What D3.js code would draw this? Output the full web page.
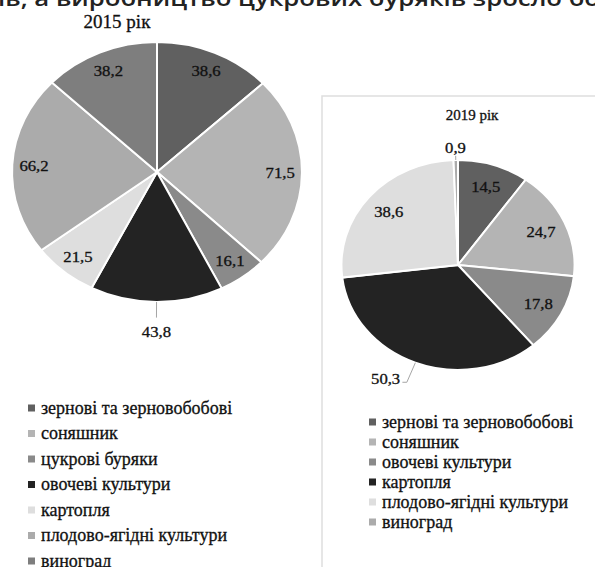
<!DOCTYPE html>
<html>
<head>
<meta charset="utf-8">
<script src="https://cdn.jsdelivr.net/npm/d3@7"></script>
<style>
  body { margin: 0; background: #fff; }
  svg { display: block; }
  svg text.serif { fill: #111; stroke: #111; stroke-width: 0.3px; }
</style>
</head>
<body>
<div id="chart"></div>
<script>
const width = 595;
const height = 567;
const serif = "Liberation Serif";

// 2015
const crops2015 = ["зернові та зерновобобові", "соняшник", "цукрові буряки", "овочеві культури", "картопля", "плодово-ягідні культури", "виноград"];
const values2015 = [38.6, 71.5, 16.1, 43.8, 21.5, 66.2, 38.2];
const colors2015 = ["#606060", "#b4b4b4", "#8a8a8a", "#232323", "#dedede", "#ababab", "#7e7e7e"];

// 2019
const crops2019 = ["зернові та зерновобобові", "соняшник", "овочеві культури", "картопля", "плодово-ягідні культури", "виноград"];
const values2019 = [14.5, 24.7, 17.8, 50.3, 38.6, 0.9];
const colors2019 = ["#606060", "#b4b4b4", "#8a8a8a", "#232323", "#dedede", "#ababab"];

const fmt = v => String(v).replace(".", ",");

const svg = d3.select("#chart")
  .append("svg")
  .attr("width", width)
  .attr("height", height);

// cropped line of the page text above the figure
svg.append("text")
  .attr("x", -2)
  .attr("y", 6)
  .attr("textLength", 602)
  .attr("lengthAdjust", "spacingAndGlyphs")
  .style("font-family", "Open Sans")
  .style("font-size", "21px")
  .style("font-weight", 600)
  .style("fill", "#222")
  .text("ів, а виробництво цукрових буряків зросло бо");

// frame of the 2019 chart
svg.append("rect")
  .attr("x", 322)
  .attr("y", 96)
  .attr("width", 300)
  .attr("height", 500)
  .attr("fill", "none")
  .attr("stroke", "#dedede")
  .attr("stroke-width", 1.5);

function drawPie(opts) {
  const pie = d3.pie().sort(null).value(d => d.v);
  const arcs = pie(opts.names.map((n, i) => ({ n: n, v: opts.values[i], c: opts.colors[i] })));
  const arc = d3.arc().innerRadius(0).outerRadius(opts.r);
  const polar = (a, rr) => [Math.sin(a) * rr, -Math.cos(a) * rr];

  const g = svg.append("g")
    .attr("transform", `translate(${opts.cx},${opts.cy}) scale(${opts.sx},1)`);

  g.selectAll("path")
    .data(arcs)
    .enter()
    .append("path")
    .attr("d", arc)
    .attr("fill", d => d.data.c)
    .attr("stroke", "#fff")
    .attr("stroke-width", 2)
    .attr("vector-effect", "non-scaling-stroke");

  arcs.forEach(d => {
    const mid = (d.startAngle + d.endAngle) / 2;
    const out = opts.outside[d.data.n];
    if (!out) {
      const p = polar(mid, opts.r * opts.k);
      g.append("text")
        .attr("class", "serif")
        .attr("x", p[0]).attr("y", p[1])
        .attr("dy", "0.35em")
        .attr("text-anchor", "middle")
        .style("font-family", serif)
        .style("font-size", opts.fs + "px")
        .text(fmt(d.data.v));
      return;
    }
    const p1 = polar(mid, opts.r);
    const p2 = polar(mid, opts.r * out.lead);
    const pts = [p1, p2];
    if (out.anchor === "end") pts.push([p2[0] - 4, p2[1]]);
    g.append("path")
      .attr("d", d3.line()(pts))
      .attr("fill", "none")
      .attr("stroke", "#a6a6a6")
      .attr("stroke-width", 1)
      .attr("vector-effect", "non-scaling-stroke");
    let t;
    if (out.anchor === "end") {
      t = [p2[0] - 6, p2[1] - 4];
    } else {
      t = polar(mid, opts.r * out.text);
    }
    g.append("text")
      .attr("class", "serif")
      .attr("x", t[0]).attr("y", t[1])
      .attr("dy", "0.35em")
      .attr("text-anchor", out.anchor)
      .style("font-family", serif)
      .style("font-size", opts.fs + "px")
      .text(fmt(d.data.v));
  });
}

drawPie({
  names: crops2015, values: values2015, colors: colors2015,
  cx: 157, cy: 172, r: 130, sx: 1.115, k: 0.85, fs: 15,
  outside: { "овочеві культури": { lead: 1.12, text: 1.23, anchor: "middle" } }
});

drawPie({
  names: crops2019, values: values2019, colors: colors2019,
  cx: 458, cy: 265, r: 105, sx: 1.11, k: 0.78, fs: 15,
  outside: {
    "картопля": { lead: 1.2, anchor: "end" },
    "виноград": { lead: 1.04, text: 1.12, anchor: "middle" }
  }
});

svg.append("text")
  .attr("class", "serif")
  .attr("x", 117).attr("y", 28)
  .attr("text-anchor", "middle")
  .style("font-family", serif)
  .style("font-size", "19px")
  .text("2015 рік");

svg.append("text")
  .attr("class", "serif")
  .attr("x", 472).attr("y", 120)
  .attr("text-anchor", "middle")
  .style("font-family", serif)
  .style("font-size", "15px")
  .text("2019 рік");

function drawLegend(names, colors, x, y, step) {
  const g = svg.append("g").attr("transform", `translate(${x},${y})`);
  const row = g.selectAll("g")
    .data(names)
    .enter()
    .append("g")
    .attr("transform", (d, i) => `translate(0,${i * step})`);
  row.append("rect")
    .attr("x", 0).attr("y", -3.5)
    .attr("width", 7).attr("height", 7)
    .attr("fill", (d, i) => colors[i]);
  row.append("text")
    .attr("class", "serif")
    .attr("x", 13).attr("y", 0)
    .attr("dy", "0.32em")
    .style("font-family", serif)
    .style("font-size", "18px")
    .text(d => d);
}

drawLegend(crops2015, colors2015, 28, 408, 25.5);
drawLegend(crops2019, colors2019, 369, 422, 20);
</script>
</body>
</html>
